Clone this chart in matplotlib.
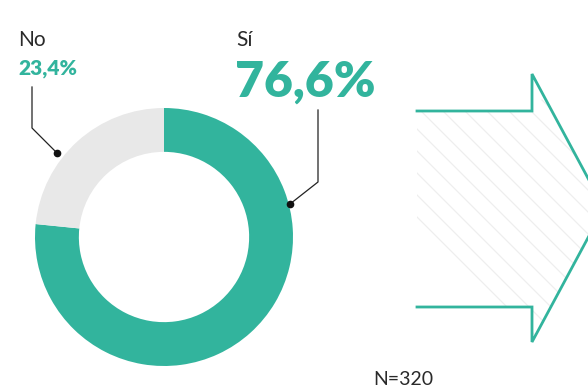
import numpy as np
import matplotlib.pyplot as plt
from matplotlib.patches import Polygon

# Respuestas
labels = ['Sí', 'No']
values = [76.6, 23.4]
pct_text = ['76,6%', '23,4%']
n_total = 320

teal = '#32b49d'
grey = '#e8e8e8'
dark = '#2a2a2a'

W, H = 588, 389
fig = plt.figure(figsize=(W / 100, H / 100), dpi=100)
ax = fig.add_axes([0, 0, 1, 1])

def Y(y):
    # pixel row -> axis y
    return H - y

# donut
cx, cy, r = 164, Y(237), 129
ax.pie(values, colors=[teal, grey], startangle=90, counterclock=False,
       center=(cx, cy), radius=r, frame=True,
       wedgeprops=dict(width=r * 0.34, linewidth=0))
ax.set_xlim(0, W)
ax.set_ylim(0, H)
ax.set_aspect('equal')
ax.axis('off')

# leader lines
ax.plot([290, 318, 318], [Y(204), Y(182), Y(110)], color='#222222', lw=0.9)
ax.plot([290], [Y(204)], 'o', color='#111111', ms=4.5)
ax.plot([57, 32, 32], [Y(153), Y(128), Y(87)], color='#222222', lw=0.9)
ax.plot([57], [Y(153)], 'o', color='#111111', ms=4.5)

# labels
ax.text(236, Y(46), labels[0], fontsize=15, color=dark, family='Lato',
        fontweight='normal', ha='left', va='baseline')
ax.text(235, Y(97), pct_text[0], fontsize=36, color=teal, family='Lato',
        fontweight='heavy', ha='left', va='baseline')
ax.text(18, Y(46), labels[1], fontsize=15, color=dark, family='Lato',
        fontweight='normal', ha='left', va='baseline')
ax.text(18, Y(74), pct_text[1], fontsize=15, color=teal, family='Lato',
        fontweight='heavy', ha='left', va='baseline')
ax.text(373, Y(385), 'N=%d' % n_total, fontsize=14, color=dark, family='Lato',
        fontweight='normal', ha='left', va='baseline')

# arrow with hatching, open on the left
pts = [(417, 111), (532, 111), (532, 74), (604, 208),
       (532, 342), (532, 307), (417, 307)]
arrow = Polygon([(x, Y(y)) for x, y in pts], closed=True,
                facecolor='white', edgecolor='none')
ax.add_patch(arrow)
for x0 in np.arange(300, 620, 22):
    ln, = ax.plot([x0, x0 + 300], [Y(100), Y(400)], color='#eeeeee', lw=0.9)
    ln.set_clip_path(arrow)
ax.plot([p[0] for p in pts], [Y(p[1]) for p in pts], color=teal, lw=2.0,
        solid_joinstyle='miter')

fig.savefig('out.png', dpi=100)
